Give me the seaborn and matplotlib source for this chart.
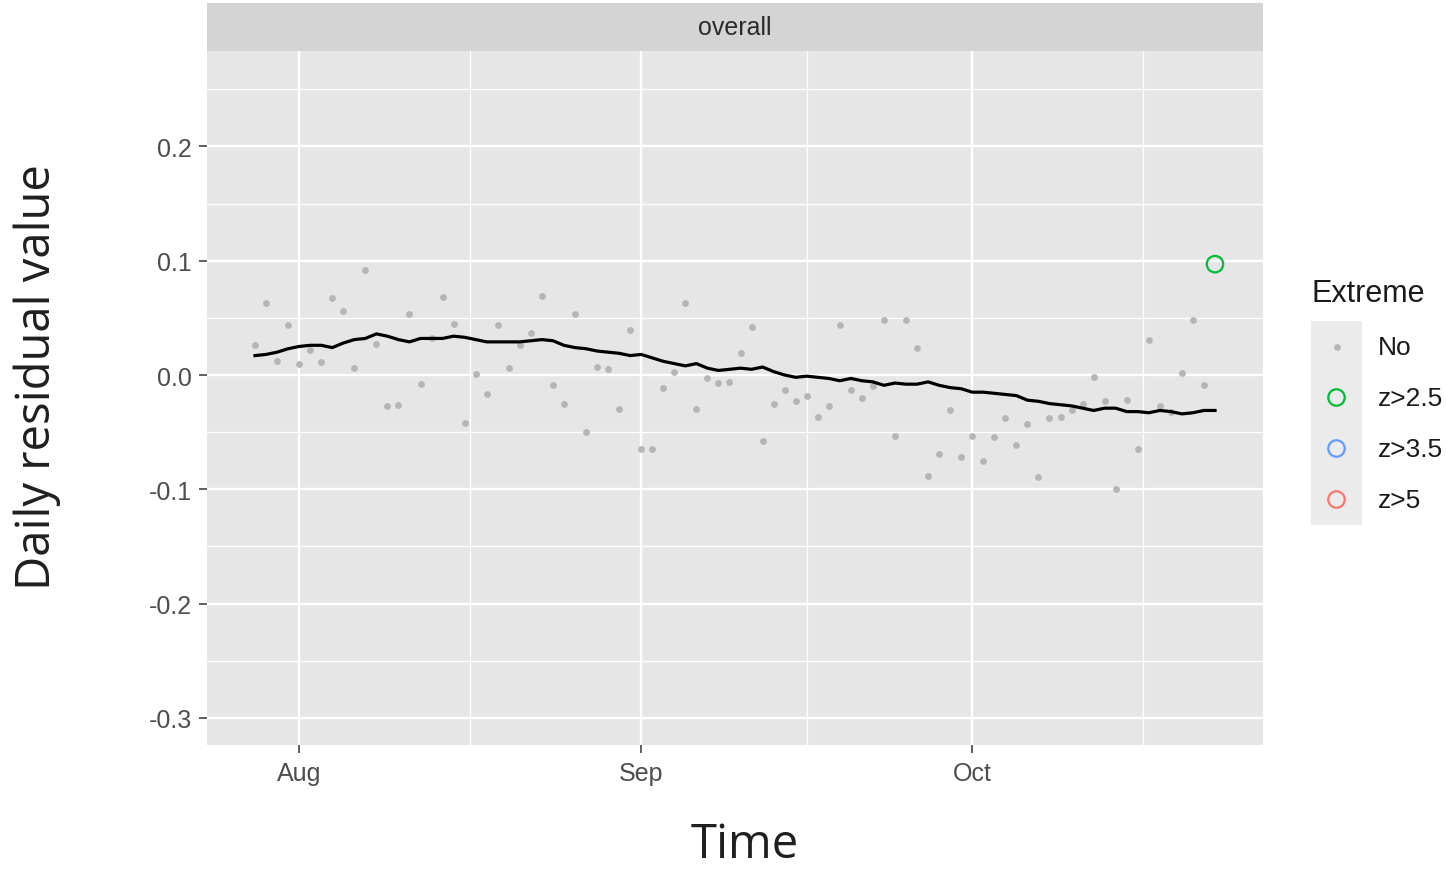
import pandas as pd
import matplotlib
matplotlib.use("Agg")
import matplotlib.pyplot as plt
import matplotlib.dates as mdates
import seaborn as sns

# daily residuals, Jul 28 - Oct 23
dates = pd.date_range("2021-07-28", "2021-10-23", freq="D")
residual = [
    0.026, 0.063, 0.012, 0.044, 0.010, 0.022, 0.011, 0.067, 0.056, 0.006,
    0.092, 0.027, -0.027, -0.026, 0.053, -0.008, 0.032, 0.068, 0.045, -0.042,
    0.001, -0.017, 0.044, 0.006, 0.026, 0.037, 0.069, -0.009, -0.025, 0.053,
    -0.050, 0.007, 0.005, -0.030, 0.039, -0.065, -0.065, -0.011, 0.003, 0.063,
    -0.030, -0.003, -0.007, -0.006, 0.019, 0.042, -0.058, -0.025, -0.013, -0.023,
    -0.018, -0.037, -0.027, 0.044, -0.013, -0.020, -0.010, 0.048, -0.053, 0.048,
    0.024, -0.088, -0.069, -0.031, -0.072, -0.053, -0.075, -0.054, -0.038, -0.061,
    -0.043, -0.089, -0.038, -0.037, -0.031, -0.025, -0.002, -0.023, -0.100, -0.022,
    -0.065, 0.031, -0.027, -0.032, 0.002, 0.048, -0.009, 0.097,
]
trend = [
    0.017, 0.018, 0.020, 0.023, 0.025, 0.026, 0.026, 0.024, 0.028, 0.031,
    0.032, 0.036, 0.034, 0.031, 0.029, 0.032, 0.032, 0.032, 0.034, 0.033,
    0.031, 0.029, 0.029, 0.029, 0.029, 0.030, 0.031, 0.030, 0.026, 0.024,
    0.023, 0.021, 0.020, 0.019, 0.017, 0.018, 0.015, 0.012, 0.010, 0.008,
    0.010, 0.006, 0.004, 0.005, 0.006, 0.005, 0.007, 0.003, 0.000, -0.002,
    -0.001, -0.002, -0.003, -0.005, -0.003, -0.005, -0.006, -0.009, -0.007, -0.008,
    -0.008, -0.006, -0.009, -0.011, -0.012, -0.015, -0.015, -0.016, -0.017, -0.018,
    -0.022, -0.023, -0.025, -0.026, -0.027, -0.029, -0.031, -0.029, -0.029, -0.032,
    -0.032, -0.033, -0.031, -0.032, -0.034, -0.033, -0.031, -0.031,
]
extreme = ["No"] * 87 + ["z>2.5"]
levels = ["No", "z>2.5", "z>3.5", "z>5"]
level_colors = ["#b5b5b5", "#00BA38", "#619CFF", "#F8766D"]
y_ticks = [-0.3, -0.2, -0.1, 0.0, 0.1, 0.2]
y_minor = [-0.25, -0.15, -0.05, 0.05, 0.15, 0.25]
x_ticks = pd.to_datetime(["2021-08-01", "2021-09-01", "2021-10-01"])
x_minor = pd.to_datetime(["2021-08-16 12:00", "2021-09-16 00:00", "2021-10-16 12:00"])

df = pd.DataFrame({"date": dates, "residual": residual, "trend": trend, "extreme": extreme})
plt.rcParams["axes.unicode_minus"] = False

W, H = 1446, 870
fig = plt.figure(figsize=(W / 100, H / 100), dpi=100)
ax = fig.add_axes([207 / W, 1 - 746 / H, 1056 / W, 694 / H])
ax.set_facecolor("#e6e6e6")
for s in ax.spines.values():
    s.set_visible(False)

no = df[df.extreme == "No"]
ext = df[df.extreme != "No"]
sns.scatterplot(data=no, x="date", y="residual", ax=ax, color=level_colors[0],
                s=24, linewidth=0, legend=False, zorder=3)
sns.scatterplot(data=ext, x="date", y="residual", ax=ax, s=140,
                facecolor="none", edgecolor=level_colors[1], linewidth=1.6,
                legend=False, zorder=3)
sns.lineplot(data=df, x="date", y="trend", ax=ax, color="black", lw=2.3, zorder=4)

ax.set_xlim(dates[0] - pd.Timedelta(days=4.35), dates[-1] + pd.Timedelta(days=4.35))
ax.set_ylim(-0.3237, 0.2835)
ax.set_yticks(y_ticks)
ax.set_yticklabels([f"{v:.1f}" for v in y_ticks])
ax.set_yticks(y_minor, minor=True)
ax.set_xticks(x_ticks)
ax.set_xticks(x_minor, minor=True)
ax.xaxis.set_major_formatter(mdates.DateFormatter("%b"))
ax.grid(which="major", color="white", lw=1.7)
ax.grid(which="minor", color="white", lw=0.9)
ax.set_axisbelow(True)
ax.tick_params(which="major", length=5.5, width=1.1, color="#333333",
               labelsize=18, labelcolor="#4d4d4d")
ax.tick_params(axis="y", pad=5.5)
ax.tick_params(axis="x", pad=6)
ax.tick_params(which="minor", length=0)
for lab in ax.get_xticklabels() + ax.get_yticklabels():
    lab.set_family("Liberation Sans")
ax.set_xlabel("")
ax.set_ylabel("")

# facet strip
sax = fig.add_axes([207 / W, 1 - 52 / H, 1056 / W, 48 / H])
sax.set_facecolor("#d4d4d4")
sax.set_xticks([])
sax.set_yticks([])
for s in sax.spines.values():
    s.set_visible(False)
sax.text(0.5, 0.5, "overall", ha="center", va="center", fontsize=18,
         color="#2b2b2b", family="Liberation Sans", transform=sax.transAxes)

# axis titles
fig.text(745 / W, 1 - 858 / H, "Time", ha="center", va="baseline",
         fontsize=34, color="#1f1f1f", family="Open Sans")
fig.text(50 / W, 1 - 377 / H, "Daily residual value", ha="center", va="baseline",
         rotation=90, rotation_mode="anchor", fontsize=34, color="#1f1f1f",
         family="Open Sans")

# legend
lax = fig.add_axes([1311 / W, 1 - 526 / H, 51 / W, 204 / H])
lax.set_facecolor("#ebebeb")
lax.set_xlim(0, 1)
lax.set_ylim(4, 0)
lax.set_xticks([])
lax.set_yticks([])
for s in lax.spines.values():
    s.set_visible(False)
for i, (lev, col) in enumerate(zip(levels, level_colors)):
    if lev == "No":
        lax.scatter([0.5], [i + 0.5], s=24, color=col, linewidth=0)
    else:
        lax.scatter([0.5], [i + 0.5], s=140, facecolor="none", edgecolor=col, linewidth=1.6)
    fig.text(1378 / W, 1 - (348 + 51 * i) / H, lev, ha="left", va="center",
             fontsize=19, color="#1a1a1a", family="Liberation Sans")
fig.text(1312 / W, 1 - 294 / H, "Extreme", ha="left", va="center",
         fontsize=22, color="#1a1a1a", family="Liberation Sans")

fig.savefig("out.png", dpi=100, facecolor="white")
